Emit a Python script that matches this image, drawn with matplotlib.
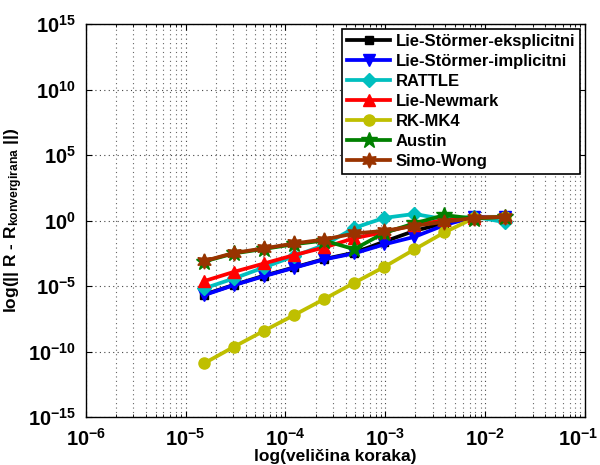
import numpy as np
import matplotlib
matplotlib.use('Agg')
import matplotlib.pyplot as plt
import matplotlib.transforms as mtransforms
from matplotlib.ticker import FixedLocator, FuncFormatter, LogLocator, NullFormatter

plt.rcParams['font.family'] = 'Liberation Sans'
plt.rcParams['font.weight'] = 'bold'
plt.rcParams['mathtext.fontset'] = 'custom'
plt.rcParams['mathtext.rm'] = 'Liberation Sans:bold'
plt.rcParams['mathtext.bf'] = 'Liberation Sans:bold'
plt.rcParams['mathtext.it'] = 'Liberation Sans:bold'

# step sizes
korak = [1.52587890625e-05, 3.0517578125e-05, 6.103515625e-05, 1.220703125e-04,
         2.44140625e-04, 4.8828125e-04, 9.765625e-04, 1.953125e-03,
         3.90625e-03, 7.8125e-03, 1.5625e-02]

# log10 of error
ls_eksp = [-5.65, -4.90, -4.20, -3.57, -2.93, -2.45, -1.60, -0.78, -0.20, 0.27, 0.29]
ls_impl = [-5.69, -4.92, -4.24, -3.60, -2.96, -2.50, -1.81, -1.24, -0.34, 0.29, 0.29]
rattle = [-5.18, -4.41, -3.57, -2.71, -1.87, -0.55, 0.21, 0.51, 0.11, 0.29, -0.11]
newmark = [-4.62, -3.91, -3.27, -2.63, -2.05, -1.34, -0.88, -0.34, 0.04, 0.23, 0.27]
rkmk4 = [-10.90, -9.63, -8.41, -7.21, -5.99, -4.75, -3.53, -2.20, -0.90, 0.21, 0.29]
austin = [-3.12, -2.50, -2.16, -1.80, -1.52, -2.18, -0.93, -0.21, 0.42, 0.16, 0.29]
simo_wong = [-3.09, -2.46, -2.12, -1.74, -1.44, -0.98, -0.78, -0.40, -0.09, 0.21, 0.29]

labels = ['Lie-Störmer-eksplicitni', 'Lie-Störmer-implicitni', 'RATTLE',
          'Lie-Newmark', 'RK-MK4', 'Austin', 'Simo-Wong']
series = [ls_eksp, ls_impl, rattle, newmark, rkmk4, austin, simo_wong]
colors = ['#000000', '#0000ff', '#00bfbf', '#ff0000', '#bfbf00', '#008000', '#993300']
markers = ['s', 'v', 'D', '^', 'o', '*', (6, 1, 0)]
msizes = [6, 9, 7, 9, 8, 12, 11]


def main():
    fig = plt.figure(figsize=(6.0, 4.65), dpi=100)
    ax = fig.add_axes([0.143, 0.103, 0.832, 0.845])

    for l, s in enumerate(series):
        ax.loglog(korak, 10.0 ** np.array(s), color=colors[l], marker=markers[l],
                  markersize=msizes[l], linewidth=2.7, label=labels[l],
                  markerfacecolor=colors[l], markeredgecolor=colors[l])

    ax.set_xlim(1e-6, 1e-1)
    ax.set_ylim(1e-15, 1e15)

    ax.xaxis.set_major_locator(FixedLocator([10.0 ** k for k in range(-6, 0)]))
    ax.xaxis.set_minor_locator(LogLocator(base=10, subs=np.arange(2, 10), numticks=20))
    ax.xaxis.set_minor_formatter(NullFormatter())
    ax.yaxis.set_major_locator(FixedLocator([10.0 ** k for k in range(-15, 16, 5)]))
    ax.yaxis.set_minor_locator(FixedLocator([]))
    fmt = FuncFormatter(lambda v, p: r'$10^{%d}$' % int(round(np.log10(v))))
    ax.xaxis.set_major_formatter(fmt)
    ax.yaxis.set_major_formatter(fmt)

    ax.tick_params(which='both', direction='in', top=True, right=True)
    ax.tick_params(which='major', length=4, labelsize=14.5)
    ax.tick_params(axis='x', which='major', pad=8)
    ax.tick_params(axis='y', which='major', pad=7)
    ax.tick_params(which='minor', length=2)

    ax.grid(True, which='major', linestyle=(0, (1, 3)), color='#444444', linewidth=0.8)
    ax.grid(True, which='minor', axis='x', linestyle=(0, (1, 3)), color='#666666',
            linewidth=0.8)
    for sp in ax.spines.values():
        sp.set_linewidth(1.0)

    ax.set_xlabel('log(veličina koraka)', fontsize=12.5, fontweight='bold', labelpad=-1)
    ax.set_ylabel(r'log(|| R - R$_{\mathrm{konvergirana}}$ ||)', fontsize=12.5,
                  fontweight='bold', labelpad=2)

    leg = ax.legend(loc='upper right', fontsize=12, frameon=True, fancybox=False,
                    edgecolor='black', framealpha=1.0, handlelength=2.6,
                    labelspacing=0.3, borderaxespad=0.3, handletextpad=0.3,
                    borderpad=0.3)
    leg.get_frame().set_linewidth(1.2)

    # nudge the last x tick label so it stays inside the figure
    fig.canvas.draw()
    lab = ax.get_xticklabels()[-1]
    lab.set_transform(lab.get_transform() +
                      mtransforms.ScaledTranslation(-7 / 100, 0, fig.dpi_scale_trans))

    plt.savefig('out.png', dpi=100)


if __name__ == '__main__':
    main()
